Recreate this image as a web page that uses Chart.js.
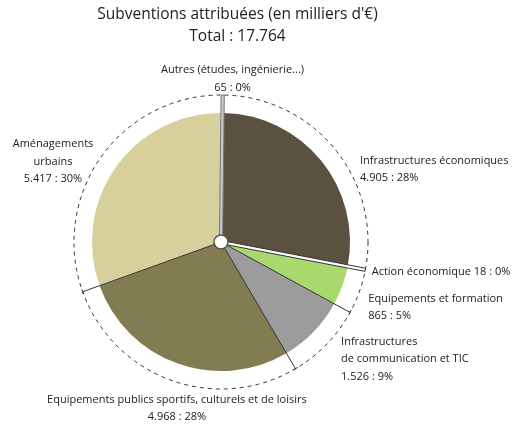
<!DOCTYPE html>
<html><head><meta charset="utf-8">
<script src="https://cdn.jsdelivr.net/npm/chart.js@4.4.0/dist/chart.umd.min.js"></script>
<style>html,body{margin:0;padding:0;background:#fff;}#wrap{width:520px;height:424px;position:relative;}</style>
</head><body><div id="wrap"><canvas id="c" width="520" height="424"></canvas></div>
<script>
// ---- data ----
const titleLines = ["Subventions attribuées (en milliers d'€)", "Total : 17.764"];
const categories = ["Autres (études, ingénierie...)", "Infrastructures économiques", "Action économique",
  "Equipements et formation", "Infrastructures de communication et TIC",
  "Equipements publics sportifs, culturels et de loisirs", "Aménagements urbains"];
const values = [65, 4905, 18, 865, 1526, 4968, 5417];
const labelLines = [
  ["Autres (études, ingénierie...)", "65 : 0%"],
  ["Infrastructures économiques", "4.905 : 28%"],
  ["Action économique 18 : 0%"],
  ["Equipements et formation", "865 : 5%"],
  ["Infrastructures", "de communication et TIC", "1.526 : 9%"],
  ["Equipements publics sportifs, culturels et de loisirs", "4.968 : 28%"],
  ["Aménagements", "urbains", "5.417 : 30%"]
];
// ---- style ----
const colors = ["#a0a0a0", "#5b5141", "#ffffff", "#a8d86e", "#9c9c9c", "#827c52", "#d7d09c"];
const labelLayout = [
  {align: "center", dx: 9.8, dy: -22},
  {align: "left", dx: 22.4, dy: 13.1},
  {align: "left", dx: 3.4, dy: 1.3},
  {align: "left", dx: 6.2, dy: 5.5},
  {align: "left", dx: 12.3, dy: -4.8},
  {align: "center", dx: 6.9, dy: 16.3},
  {align: "center", dx: -45.3, dy: -11.7}
];
const FONT = "'Open Sans', 'Noto Sans', sans-serif";
const PIE_R = 129, DASH_R = 147, LABEL_R = 150, LINE_H = 17.5;
const total = values.reduce((a, b) => a + b, 0);
const isTiny = values.map(v => v / total < 0.01);

const decor = {
  id: 'decor',
  afterDatasetsDraw(chart) {
    const ctx = chart.ctx;
    const arcs = chart.getDatasetMeta(0).data;
    const cx = arcs[0].x, cy = arcs[0].y;
    ctx.save();
    // dashed circle
    ctx.beginPath();
    ctx.setLineDash([4, 4]);
    ctx.strokeStyle = "#333";
    ctx.lineWidth = 1;
    ctx.arc(cx, cy, DASH_R, 0, Math.PI * 2);
    ctx.stroke();
    ctx.setLineDash([]);
    // leader lines at slice ends
    arcs.forEach((arc, i) => {
      const next = (i + 1) % arcs.length;
      if (isTiny[i] || isTiny[next]) return;
      const a = arc.endAngle;
      const ux = Math.cos(a), uy = Math.sin(a);
      const ex = cx + ux * DASH_R, ey = cy + uy * DASH_R;
      ctx.beginPath();
      ctx.strokeStyle = "#333";
      ctx.lineWidth = 1;
      ctx.moveTo(cx, cy);
      ctx.lineTo(ex, ey);
      ctx.moveTo(ex - uy * 2.5, ey + ux * 2.5);
      ctx.lineTo(ex + uy * 2.5, ey - ux * 2.5);
      ctx.stroke();
    });
    // tiny slices as hollow bars
    arcs.forEach((arc, i) => {
      if (!isTiny[i]) return;
      const a = (arc.startAngle + arc.endAngle) / 2;
      const ux = Math.cos(a), uy = Math.sin(a);
      const px = -uy, py = ux, w = 1.6;
      const r0 = 6, r1 = DASH_R;
      ctx.beginPath();
      ctx.moveTo(cx + ux * r0 + px * w, cy + uy * r0 + py * w);
      ctx.lineTo(cx + ux * r1 + px * w, cy + uy * r1 + py * w);
      ctx.lineTo(cx + ux * r1 - px * w, cy + uy * r1 - py * w);
      ctx.lineTo(cx + ux * r0 - px * w, cy + uy * r0 - py * w);
      ctx.closePath();
      const white = colors[i] === "#ffffff";
      ctx.fillStyle = white ? "#ffffff" : "#c8c8c8";
      ctx.fill();
      ctx.strokeStyle = white ? "#333" : "#777";
      ctx.lineWidth = 1;
      ctx.stroke();
    });
    // centre circle
    ctx.beginPath();
    ctx.arc(cx, cy, 7, 0, Math.PI * 2);
    ctx.fillStyle = "#fff";
    ctx.fill();
    ctx.strokeStyle = "#555";
    ctx.lineWidth = 1.5;
    ctx.stroke();
    // labels
    ctx.fillStyle = "#222";
    ctx.font = "11px " + FONT;
    ctx.textBaseline = "middle";
    arcs.forEach((arc, i) => {
      const a = (arc.startAngle + arc.endAngle) / 2;
      const ax = cx + Math.cos(a) * LABEL_R, ay = cy + Math.sin(a) * LABEL_R;
      const L = labelLayout[i];
      ctx.textAlign = L.align;
      labelLines[i].forEach((t, k) => {
        ctx.fillText(t, ax + L.dx, ay + L.dy + k * LINE_H);
      });
    });
    // title
    ctx.font = "15.5px " + FONT;
    ctx.textAlign = "center";
    ctx.fillStyle = "#222";
    titleLines.forEach((t, k) => ctx.fillText(t, cx + 16.5, 15 + k * 22));
    ctx.restore();
  }
};

new Chart(document.getElementById('c'), {
  type: 'pie',
  data: {labels: categories, datasets: [{data: values, backgroundColor: colors, borderWidth: 0, radius: PIE_R}]},
  options: {
    responsive: false, animation: false,
    layout: {padding: {left: 0, right: 78, top: 60, bottom: 0}},
    plugins: {legend: {display: false}, tooltip: {enabled: false}, title: {display: false}}
  },
  plugins: [decor]
});
</script></body></html>
